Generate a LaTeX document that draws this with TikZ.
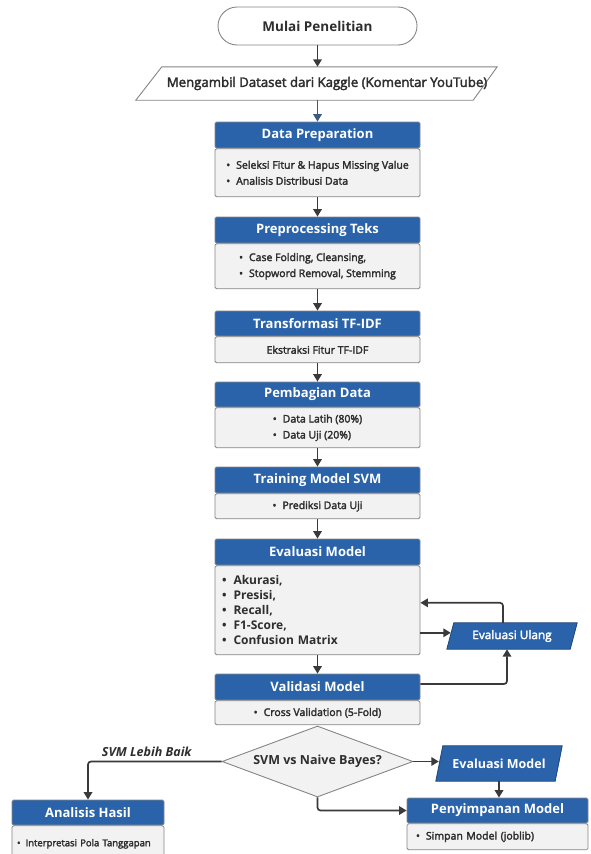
\documentclass[tikz,border=0pt]{standalone}
\usepackage{fontspec}
\setmainfont{Open Sans}
\newfontfamily\sbf{Open Sans}[FakeBold=2.6]
\usetikzlibrary{arrows.meta,shapes.geometric,backgrounds,calc}
\definecolor{hblue}{HTML}{2A63AA}
\definecolor{bodyg}{HTML}{F2F2F2}
\definecolor{bordg}{HTML}{858585}
\definecolor{arrc}{HTML}{3A3A3A}
\definecolor{txtc}{HTML}{2E2E2E}
\definecolor{arrblue}{HTML}{3D5A80}
\begin{document}
\begin{tikzpicture}[x=1pt,y=-1pt,
  hdr/.style={draw=bordg, fill=hblue, line width=0.8pt, rounded corners=1.5pt, text=white,
    font=\bfseries\fontsize{13}{15}\selectfont, inner sep=0pt, minimum width=205pt, minimum height=26pt},
  bodybox/.style={draw=bordg, fill=bodyg, line width=0.8pt, rounded corners=1.5pt, text=txtc,
    align=left, inner sep=0pt, minimum width=205pt, font=\sbf\fontsize{10.5}{16}\selectfont},
  arr/.style={draw=arrc, line width=1.7pt, -{Triangle[length=7.5pt,width=8.5pt]}},
  para/.style={draw=bordg, fill=white, line width=0.9pt},
  bpara/.style={draw=hblue!70!black, fill=hblue, line width=0.8pt}
]
\useasboundingbox (0,0) rectangle (591,854);

% start
\node[draw=bordg, fill=white, line width=0.9pt, rounded corners=19pt, minimum width=199pt,
  minimum height=38pt, inner sep=0pt, text=txtc, font=\bfseries\fontsize{13.5}{15}\selectfont]
  (start) at (317.5,26) {Mulai Penelitian};

% data input
\node[minimum width=361pt, minimum height=33pt, inner sep=0pt, text=txtc,
  font=\sbf\fontsize{13.2}{15}\selectfont] (data) at (316.5,83.5)
  {\hspace*{21pt}Mengambil Dataset dari Kaggle (Komentar YouTube)};
\begin{scope}[on background layer]
\draw[para] ([xshift=26pt]data.north west) -- (data.north east) -- ([xshift=-24pt]data.south east)
  -- (data.south west) -- cycle;
\end{scope}

% Data Preparation
\node[hdr] (dpH) at (317.5,135) {Data Preparation};
\node[bodybox, minimum height=48pt, anchor=north] (dpB) at (dpH.south)
  {•\hspace{6pt}Seleksi Fitur \& Hapus Missing Value\\•\hspace{6pt}Analisis Distribusi Data};

% Preprocessing
\node[hdr] (ppH) at (317.5,230) {Preprocessing Teks};
\node[bodybox, minimum height=45pt, anchor=north] (ppB) at (ppH.south)
  {•\hspace{6pt}Case Folding, Cleansing,\\•\hspace{6pt}Stopword Removal, Stemming};

% TF-IDF
\node[hdr, minimum height=25pt] (tfH) at (317.5,323.5) {Transformasi TF-IDF};
\node[bodybox, minimum height=26pt, anchor=north] (tfB) at (tfH.south) {Ekstraksi Fitur TF-IDF};

% Pembagian
\node[hdr, minimum height=25pt] (pbH) at (317.5,394.5) {Pembagian Data};
\node[bodybox, minimum height=40pt, anchor=north] (pbB) at (pbH.south)
  {•\hspace{6pt}Data Latih (80\%)\\•\hspace{6pt}Data Uji (20\%)};

% Training
\node[hdr] (trH) at (317.5,480) {Training Model SVM};
\node[bodybox, minimum height=25pt, anchor=north] (trB) at (trH.south) {•\hspace{6pt}Prediksi Data Uji};

% Evaluasi
\node[hdr] (evH) at (317.5,552) {Evaluasi Model};
\node[bodybox, minimum height=89pt, anchor=north, text width=191pt, inner xsep=7pt,
  font=\bfseries\fontsize{12}{15}\selectfont] (evB) at (evH.south)
  {•\hspace{7pt}Akurasi,\\•\hspace{7pt}Presisi,\\•\hspace{7pt}Recall,\\•\hspace{7pt}F1-Score,\\•\hspace{7pt}Confusion Matrix};

% Validasi
\node[hdr] (vaH) at (317.5,687) {Validasi Model};
\node[bodybox, minimum height=24pt, anchor=north] (vaB) at (vaH.south) {•\hspace{6pt}Cross Validation (5-Fold)};

% Evaluasi Ulang
\node[minimum width=130pt, minimum height=26pt, inner sep=0pt, text=white,
  font=\sbf\fontsize{11.8}{13}\selectfont] (ulang) at (512,636) {Evaluasi Ulang};
\begin{scope}[on background layer]
\draw[bpara] ([xshift=7pt]ulang.north west) -- (ulang.north east) -- ([xshift=-7pt]ulang.south east)
  -- (ulang.south west) -- cycle;
\end{scope}

% Decision
\node[diamond, aspect=2.69, draw=bordg, fill=bodyg, line width=0.9pt, minimum width=191pt, minimum height=71pt,
  inner sep=0pt, text=txtc, font=\bfseries\fontsize{12.5}{14}\selectfont] (dia) at (317.5,761.5)
  {SVM vs Naive Bayes?};

% Evaluasi Model (para)
\node[minimum width=126pt, minimum height=35pt, inner sep=0pt, text=white,
  font=\bfseries\fontsize{12.5}{14}\selectfont] (evm) at (499,763.5) {Evaluasi Model};
\begin{scope}[on background layer]
\draw[bpara] ([xshift=7pt]evm.north west) -- (evm.north east) -- ([xshift=-7pt]evm.south east)
  -- (evm.south west) -- cycle;
\end{scope}

% Penyimpanan
\node[hdr, minimum width=181pt, minimum height=25pt] (pyH) at (497.5,810.5) {Penyimpanan Model};
\node[bodybox, minimum width=181pt, minimum height=26pt, anchor=north, text width=163pt,
  inner xsep=9pt, font=\sbf\fontsize{10.5}{12}\selectfont] (pyB) at (pyH.south) {•\hspace{6pt}Simpan Model (joblib)};

% Analisis
\node[hdr, minimum width=152pt, minimum height=25pt] (anH) at (88,812.5) {Analisis Hasil};
\node[bodybox, minimum width=152pt, minimum height=36pt, anchor=north, text width=142pt,
  inner xsep=5pt, font=\sbf\fontsize{9.5}{12}\selectfont] (anB) at (anH.south)
  {•\hspace{5pt}Interpretasi Pola Tanggapan};

% arrows
\coordinate (e1) at ([yshift=-22.5pt]evB.east);
\draw[arr] (start.south) -- (start.south |- data.north);
\draw[arr, draw=arrblue] (dpH.north |- data.south) -- (dpH.north);
\draw[arr] (dpB.south) -- (ppH.north);
\draw[arr] (ppB.south) -- (tfH.north);
\draw[arr] (tfB.south) -- (pbH.north);
\draw[arr] (pbB.south) -- (trH.north);
\draw[arr] (trB.south) -- (evH.north);
\draw[arr] (evB.south) -- (vaH.north);
\draw[arr] (e1) -- ([xshift=4pt]e1 -| ulang.west);
\draw[arr, rounded corners=3pt] ([xshift=-9pt]ulang.north) |- ([yshift=7.5pt]evB.east);
\draw[arr, rounded corners=3pt] ([yshift=3pt]vaH.east) -| ([xshift=-5pt]ulang.south);
\draw[arr] (dia.east) -- ([xshift=3pt]evm.west |- dia.east);
\draw[arr] (evm.south) -- (evm.south |- pyH.north);
\draw[arr, rounded corners=3pt] (dia.south) |- (pyH.west);
\draw[arr, rounded corners=3pt] (dia.west) -| (anH.north)
  node[pos=0.28, above=1pt, text=txtc, font=\bfseries\itshape\fontsize{12.5}{14}\selectfont] {SVM Lebih Baik};
\end{tikzpicture}
\end{document}
